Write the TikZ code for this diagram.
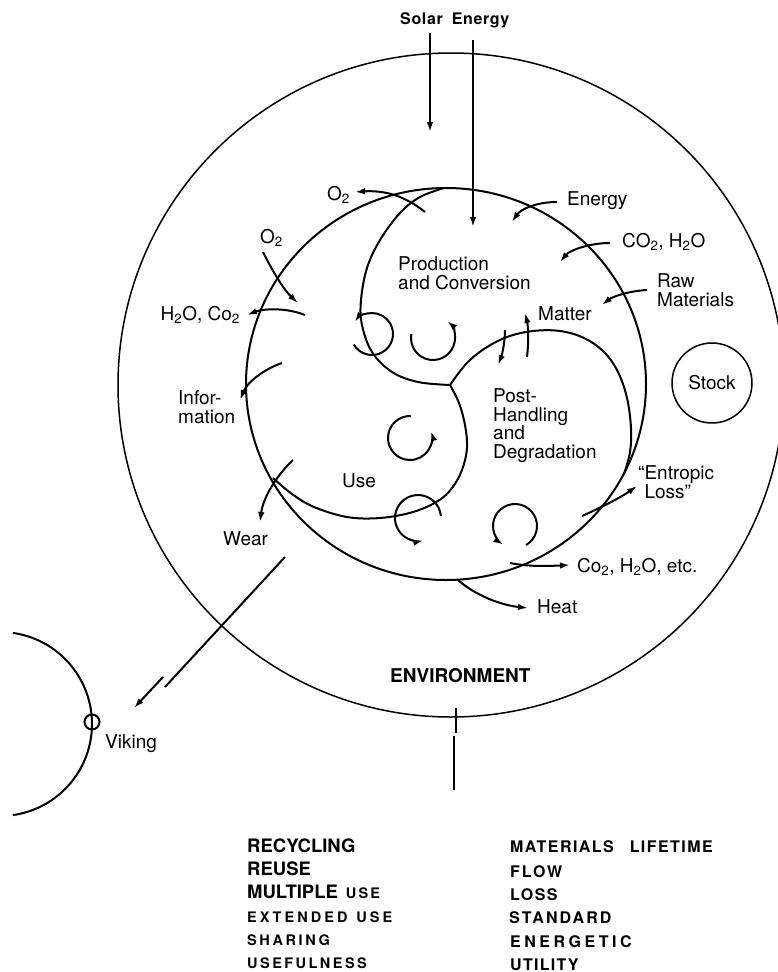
\documentclass[tikz,border=0pt]{standalone}
\usepackage{fontspec}
\setmainfont{TeX Gyre Heros}
\usetikzlibrary{arrows.meta,calc}
\newcommand\lsp[2]{{\addfontfeatures{LetterSpace=#1}#2}}
\begin{document}
\begin{tikzpicture}[x=1pt,y=-1pt,
  lbl/.style={inner sep=0pt, anchor=base west, align=left, font=\fontsize{19}{19}\selectfont},
  ln/.style={line width=2pt},
  thin/.style={line width=1.5pt},
  arr/.style={line width=2pt, -{Latex[length=10pt,width=6.5pt]}},
  listb/.style={inner sep=0pt, anchor=base west, font=\bfseries\fontsize{18.5}{18.5}\selectfont},
  lists/.style={inner sep=0pt, anchor=base west, font=\bfseries\fontsize{14.5}{14.5}\selectfont},
  listr/.style={inner sep=0pt, anchor=base west, font=\bfseries\fontsize{16}{16}\selectfont},
]
\useasboundingbox (0,0) rectangle (777,972);

% environment and system circles
\coordinate (envc) at (451,385);
\coordinate (sysc) at (446,384);
\draw[thin] (envc) ellipse[x radius=333, y radius=332];
\draw[ln] (sysc) ellipse[x radius=200, y radius=196];

% lobe boundaries
\coordinate (junc) at (450,385);
\draw[ln] plot[smooth, tension=0.6] coordinates {(junc) (418,382) (392,372) (372,352) (362,325) (361,300) (367,268) (380,240) (400,213) (420,197) (444,188)};
\draw[ln] plot[smooth, tension=0.6] coordinates {(junc) (466,364) (484,349) (507,337) (533,331) (560,331) (584,338) (604,352) (618,372) (627,398) (631,428) (630,452) (624,474)};
\draw[ln] plot[smooth, tension=0.6] coordinates {(junc) (459,403) (465,425) (467,448) (462,470) (452,488) (438,501) (413,512) (380,518) (347,517) (314,507) (292,494) (273,478)};

% stock
\node[draw, thin, circle, minimum size=80, inner sep=0pt, font=\fontsize{19}{19}\selectfont] (stock) at (712,383) {Stock};

% solar energy
\node[lbl, font=\bfseries\fontsize{16}{16}\selectfont] (solar) at (400,24) {\lsp{4}{Solar}\hspace{9pt}\lsp{4}{Energy}};
\coordinate (sa1) at (430,33);  \coordinate (sb1) at (430,132);
\coordinate (sa2) at (473,40);  \coordinate (sb2) at (473,227);
\draw[arr] (sa1) -- (sb1);
\draw[arr] (sa2) -- (sb2);

% labels (multi-line nodes are anchored at the baseline of their last line)
\node[lbl] (o2top) at (327,200) {O\textsubscript{2}};
\node[lbl] (energy) at (567,205) {Energy};
\node[lbl] (co2h2o) at (622,247) {CO\textsubscript{2}, H\textsubscript{2}O};
\node[lbl] (raw) at (657,306) {Raw\\Materials};
\node[lbl] (matter) at (538,320) {Matter};
\node[lbl] (prod) at (398,289) {Production\\and Conversion};
\node[lbl, font=\fontsize{19}{18.5}\selectfont] (post) at (493,458) {Post-\\Handling\\and\\Degradation};
\node[lbl] (use) at (342,487) {Use};
\node[lbl, font=\fontsize{19}{18.5}\selectfont] (info) at (178,423) {Infor-\\mation};
\node[lbl, anchor=base east] (h2oco2) at (240,320) {H\textsubscript{2}O, Co\textsubscript{2}};
\node[lbl] (o2left) at (260,243) {O\textsubscript{2}};
\node[lbl] (wear) at (223,545) {Wear};
\node[lbl, font=\fontsize{19}{18.5}\selectfont] (entropic) at (638,498) {``Entropic\\\hphantom{``}Loss''};
\node[lbl] (co2etc) at (577,572) {Co\textsubscript{2}, H\textsubscript{2}O, etc.};
\node[lbl] (heat) at (537,613) {Heat};
\node[lbl, font=\bfseries\fontsize{19}{19}\selectfont] (env) at (390,682) {ENVIRONMENT};
\node[lbl] (viking) at (105,748) {Viking};

% flow arrows
\coordinate (o2a) at (425,212); \coordinate (o2b) at (355,192);
\draw[arr] (o2a) .. controls (405,196) and (385,190) .. (o2b);
\coordinate (ena) at (557,202); \coordinate (enb) at (512,222);
\draw[arr] (ena) .. controls (535,202) and (520,210) .. (enb);
\coordinate (coa) at (610,243); \coordinate (cob) at (560,262);
\draw[arr] (coa) .. controls (590,243) and (570,250) .. (cob);
\coordinate (rwa) at (647,290); \coordinate (rwb) at (602,305);
\draw[arr] (rwa) .. controls (628,291) and (612,297) .. (rwb);
\coordinate (maa) at (505,330); \coordinate (mab) at (498,365);
\draw[arr] (maa) .. controls (505,342) and (502,355) .. (mab);
\coordinate (mba) at (527,357); \coordinate (mbb) at (525,313);
\draw[arr] (mba) .. controls (529,340) and (528,325) .. (mbb);
\coordinate (ela) at (582,516); \coordinate (elb) at (637,486);
\draw[arr] (ela) .. controls (600,508) and (620,498) .. (elb);
\coordinate (cea) at (510,563); \coordinate (ceb) at (570,565);
\draw[arr] (cea) .. controls (530,567) and (550,566) .. (ceb);
\coordinate (hta) at (458,580); \coordinate (htb) at (528,608);
\draw[arr] (hta) .. controls (475,595) and (500,605) .. (htb);
\coordinate (hca) at (305,315); \coordinate (hcb) at (247,315);
\draw[arr] (hca) .. controls (285,307) and (262,309) .. (hcb);
\coordinate (ola) at (263,252); \coordinate (olb) at (298,303);
\draw[arr] (ola) .. controls (273,272) and (284,290) .. (olb);
\coordinate (ifa) at (282,363); \coordinate (ifb) at (240,400);
\draw[arr] (ifa) .. controls (262,370) and (247,383) .. (ifb);
\coordinate (wra) at (293,460); \coordinate (wrb) at (260,522);
\draw[arr] (wra) .. controls (276,476) and (263,498) .. (wrb);

% line to Viking
\coordinate (vla) at (285,557); \coordinate (vlb) at (165,687);
\draw[ln] (vla) -- (vlb);
\coordinate (vaa) at (163,677); \coordinate (vab) at (134,708);
\draw[arr] (vaa) -- (vab);

% Viking
\coordinate (vkc) at (0,724);
\draw[ln] ([shift={(-82:92)}]vkc) arc[start angle=-82, end angle=82, radius=92];
\node[draw, ln, circle, minimum size=15, inner sep=0pt] (vkm) at (92,722) {};

% bottom line
\coordinate (bta) at (456,708); \coordinate (btb) at (456,733);
\draw[ln] (bta) -- (btb);
\coordinate (bla) at (454,736); \coordinate (blb) at (454,790);
\draw[ln] (bla) -- (blb);

% swirls
\coordinate (s1) at (372,334);
\draw[arr] ([shift={(-210:21)}]s1) arc[start angle=-210, end angle=-505, radius=21];
\coordinate (s2) at (433,338);
\draw[arr] ([shift={(-170:22)}]s2) arc[start angle=-170, end angle=-410, radius=22];
\coordinate (s3) at (410,438);
\draw[arr] ([shift={(-88:22)}]s3) arc[start angle=-88, end angle=-378, radius=22];
\coordinate (s4) at (418,518);
\draw[arr] ([shift={(-5:23)}]s4) arc[start angle=-5, end angle=-283, radius=23];
\coordinate (s5) at (515,526);
\draw[arr] ([shift={(60:22)}]s5) arc[start angle=60, end angle=-238, radius=22];

% lists
\node[listb] (rec) at (247,852) {RECYCLING};
\node[listb] (reu) at (247,875) {REUSE};
\node[listb] (mul) at (247,898) {MULTIPLE\hspace{8pt}{\fontsize{14.5}{14.5}\selectfont\lsp{15}{USE}}};
\node[lists] (ext) at (247,922) {\lsp{21}{EXTENDED}\hspace{9pt}\lsp{21}{USE}};
\node[lists] (sha) at (247,945) {\lsp{18}{SHARING}};
\node[lists] (usf) at (247,968) {\lsp{17}{USEFULNESS}};
\node[listr] (mat) at (510,852) {\lsp{9}{MATERIALS}\hspace{16pt}\lsp{9}{LIFETIME}};
\node[listr] (flo) at (510,877) {\lsp{12}{FLOW}};
\node[listr] (los) at (510,900) {\lsp{9}{LOSS}};
\node[listr] (sta) at (509,923) {\lsp{13}{STANDARD}};
\node[listr] (ene) at (510,947) {\lsp{22}{ENERGETIC}};
\node[listr] (uti) at (510,970) {\lsp{8}{UTILITY}};
\end{tikzpicture}
\end{document}
